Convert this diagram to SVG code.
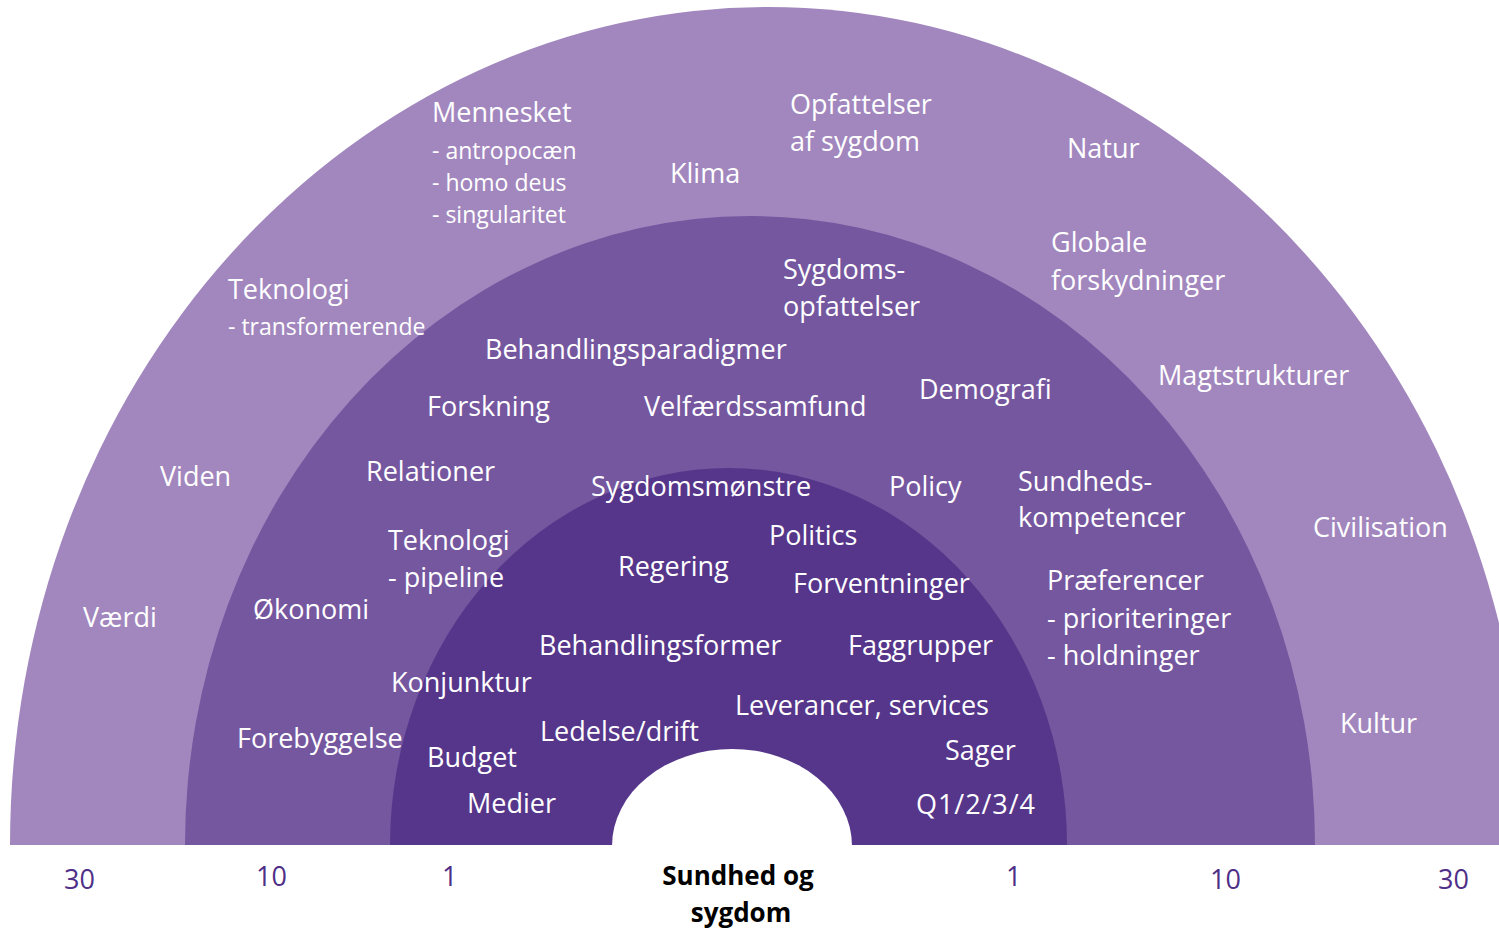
<svg xmlns="http://www.w3.org/2000/svg" width="1499" height="929" viewBox="0 0 1499 929">
<style>
.t{font-family:"Open Sans","Noto Sans","Liberation Sans",sans-serif;font-size:27px;fill:#ffffff}
.s{font-size:23px}
.n{font-family:"Open Sans","Noto Sans","Liberation Sans",sans-serif;font-size:27px;fill:#4F2F87}
.c{font-family:"Open Sans","Noto Sans","Liberation Sans",sans-serif;font-size:26px;font-weight:bold;fill:#000000}
</style>
<rect width="1499" height="929" fill="#ffffff"/>
<g id="rings">
<path id="ring-30-shape" d="M10 845 A758 838 0 0 1 1526 845 Z" fill="#A287BE"/>
<path id="ring-10-shape" d="M185 845 A565 629 0 0 1 1315 845 Z" fill="#75579F"/>
<path id="ring-1-shape" d="M390 845 A338.5 377 0 0 1 1067 845 Z" fill="#56368A"/>
<path id="center-shape" d="M612 846 A120 97 0 0 1 852 846 Z" fill="#ffffff"/>
</g>
<g id="ring-30">
<text class="t" x="432" y="122">Mennesket</text>
<text class="t s" x="432" y="159">- antropocæn</text>
<text class="t s" x="432" y="191">- homo deus</text>
<text class="t s" x="432" y="223">- singularitet</text>
<text class="t" x="670" y="183">Klima</text>
<text class="t" x="790" y="114">Opfattelser</text>
<text class="t" x="790" y="151">af sygdom</text>
<text class="t" x="1067" y="158">Natur</text>
<text class="t" x="228" y="299">Teknologi</text>
<text class="t s" x="228" y="335">- transformerende</text>
<text class="t" x="1051" y="252">Globale</text>
<text class="t" x="1051" y="290">forskydninger</text>
<text class="t" x="1158" y="385">Magtstrukturer</text>
<text class="t" x="160" y="486">Viden</text>
<text class="t" x="1313" y="537">Civilisation</text>
<text class="t" x="83" y="627">Værdi</text>
<text class="t" x="1340" y="733">Kultur</text>
</g>
<g id="ring-10">
<text class="t" x="783" y="279">Sygdoms-</text>
<text class="t" x="783" y="316">opfattelser</text>
<text class="t" x="485" y="359">Behandlingsparadigmer</text>
<text class="t" x="427" y="416">Forskning</text>
<text class="t" x="644" y="416">Velfærdssamfund</text>
<text class="t" x="919" y="399">Demografi</text>
<text class="t" x="366" y="481">Relationer</text>
<text class="t" x="889" y="496">Policy</text>
<text class="t" x="1018" y="491">Sundheds-</text>
<text class="t" x="1018" y="527">kompetencer</text>
<text class="t" x="388" y="550">Teknologi</text>
<text class="t" x="388" y="587">- pipeline</text>
<text class="t" x="253" y="619">Økonomi</text>
<text class="t" x="1047" y="590">Præferencer</text>
<text class="t" x="1047" y="628">- prioriteringer</text>
<text class="t" x="1047" y="665">- holdninger</text>
<text class="t" x="237" y="748">Forebyggelse</text>
</g>
<g id="ring-1">
<text class="t" x="591" y="496">Sygdomsmønstre</text>
<text class="t" x="769" y="545">Politics</text>
<text class="t" x="618" y="576">Regering</text>
<text class="t" x="793" y="593">Forventninger</text>
<text class="t" x="539" y="655">Behandlingsformer</text>
<text class="t" x="848" y="655">Faggrupper</text>
<text class="t" x="391" y="692">Konjunktur</text>
<text class="t" x="735" y="715">Leverancer, services</text>
<text class="t" x="540" y="741">Ledelse/drift</text>
<text class="t" x="427" y="767">Budget</text>
<text class="t" x="945" y="760">Sager</text>
<text class="t" x="467" y="813">Medier</text>
<text class="t" x="916" y="814" textLength="119" lengthAdjust="spacing">Q1/2/3/4</text>
</g>
<g id="center">
<text class="c" x="738" y="885" text-anchor="middle">Sundhed og</text>
<text class="c" x="741" y="922" text-anchor="middle">sygdom</text>
</g>
<g id="scale">
<text class="n" x="64" y="889">30</text>
<text class="n" x="256" y="886">10</text>
<text class="n" x="442" y="886">1</text>
<text class="n" x="1006" y="886">1</text>
<text class="n" x="1210" y="889">10</text>
<text class="n" x="1438" y="889">30</text>
</g>
<g id="connectors"></g>
</svg>
